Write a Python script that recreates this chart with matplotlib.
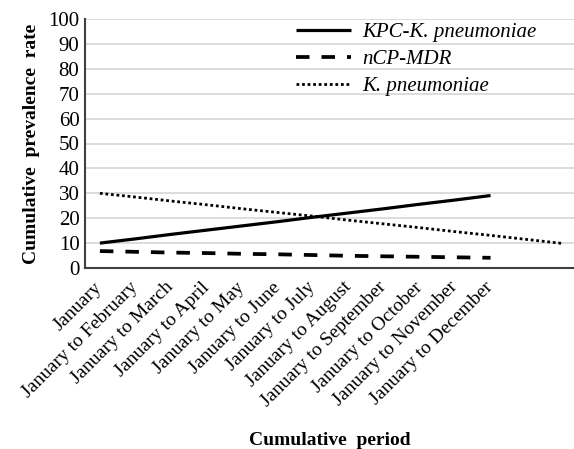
import matplotlib.pyplot as plt
import matplotlib.transforms as mtransforms

plt.rcParams['font.family'] = ['Liberation Serif', 'DejaVu Serif']

periods = ["January", "January to February", "January to March", "January to April",
           "January to May", "January to June", "January to July", "January to August",
           "January to September", "January to October", "January to November",
           "January to December"]

kpc = [10.0, 11.7, 13.5, 15.2, 16.9, 18.6, 20.4, 22.1, 23.8, 25.6, 27.3, 29.1]
ncp_mdr = [6.8, 6.5, 6.2, 6.0, 5.7, 5.5, 5.2, 4.9, 4.7, 4.5, 4.3, 4.1]
kpn = [30.0, 28.5, 26.9, 25.4, 23.8, 22.3, 20.8, 19.2, 17.7, 16.2, 14.6, 13.1, 11.5, 9.9]

fig = plt.figure(figsize=(5.74, 4.49), dpi=100)
ax = fig.add_axes([85/574, 1 - 268/449, 1 - 85/574, (268 - 19)/449])

ax.plot(range(len(kpc)), kpc, color='black', lw=2.3, solid_capstyle='butt',
        label='KPC-K. pneumoniae')
ax.plot(range(len(ncp_mdr)), ncp_mdr, color='black', lw=2.7,
        linestyle=(0, (3.6, 3.2)), dash_capstyle='butt', label='nCP-MDR')
ax.plot(range(len(kpn)), kpn, color='black', lw=2.0,
        linestyle=(0, (1, 1)), label='K. pneumoniae')

ax.set_ylim(0, 100)
ax.set_yticks(range(0, 101, 10))
ax.set_xlim(-0.42, 13.35)
ax.set_xticks(range(len(periods)))
ax.set_xticklabels(periods, rotation=45, ha='right', va='center',
                   rotation_mode='anchor', fontsize=14)
offset = mtransforms.ScaledTranslation(5/100, -2/100, fig.dpi_scale_trans)
for lab in ax.get_xticklabels():
    lab.set_transform(lab.get_transform() + offset)
ax.tick_params(axis='x', length=0, pad=12)
ax.tick_params(axis='y', length=0, pad=4, labelsize=15)

ax.grid(axis='y', color='#d9d9d9', lw=1.3)
ax.set_axisbelow(True)
for s in ['top', 'right']:
    ax.spines[s].set_visible(False)
for s in ['left', 'bottom']:
    ax.spines[s].set_color('#404040')
    ax.spines[s].set_linewidth(1.5)

ax.set_ylabel('Cumulative  prevalence  rate', fontsize=14, fontweight='bold', labelpad=6)
ax.set_xlabel('Cumulative  period', fontsize=14, fontweight='bold', labelpad=16)

leg = ax.legend(loc='upper left', bbox_to_anchor=(0.393, 1.06), frameon=False,
                prop={'style': 'italic', 'size': 15}, handlelength=2.65,
                handletextpad=0.55, labelspacing=0.35)

fig.savefig('out.png', dpi=100)
